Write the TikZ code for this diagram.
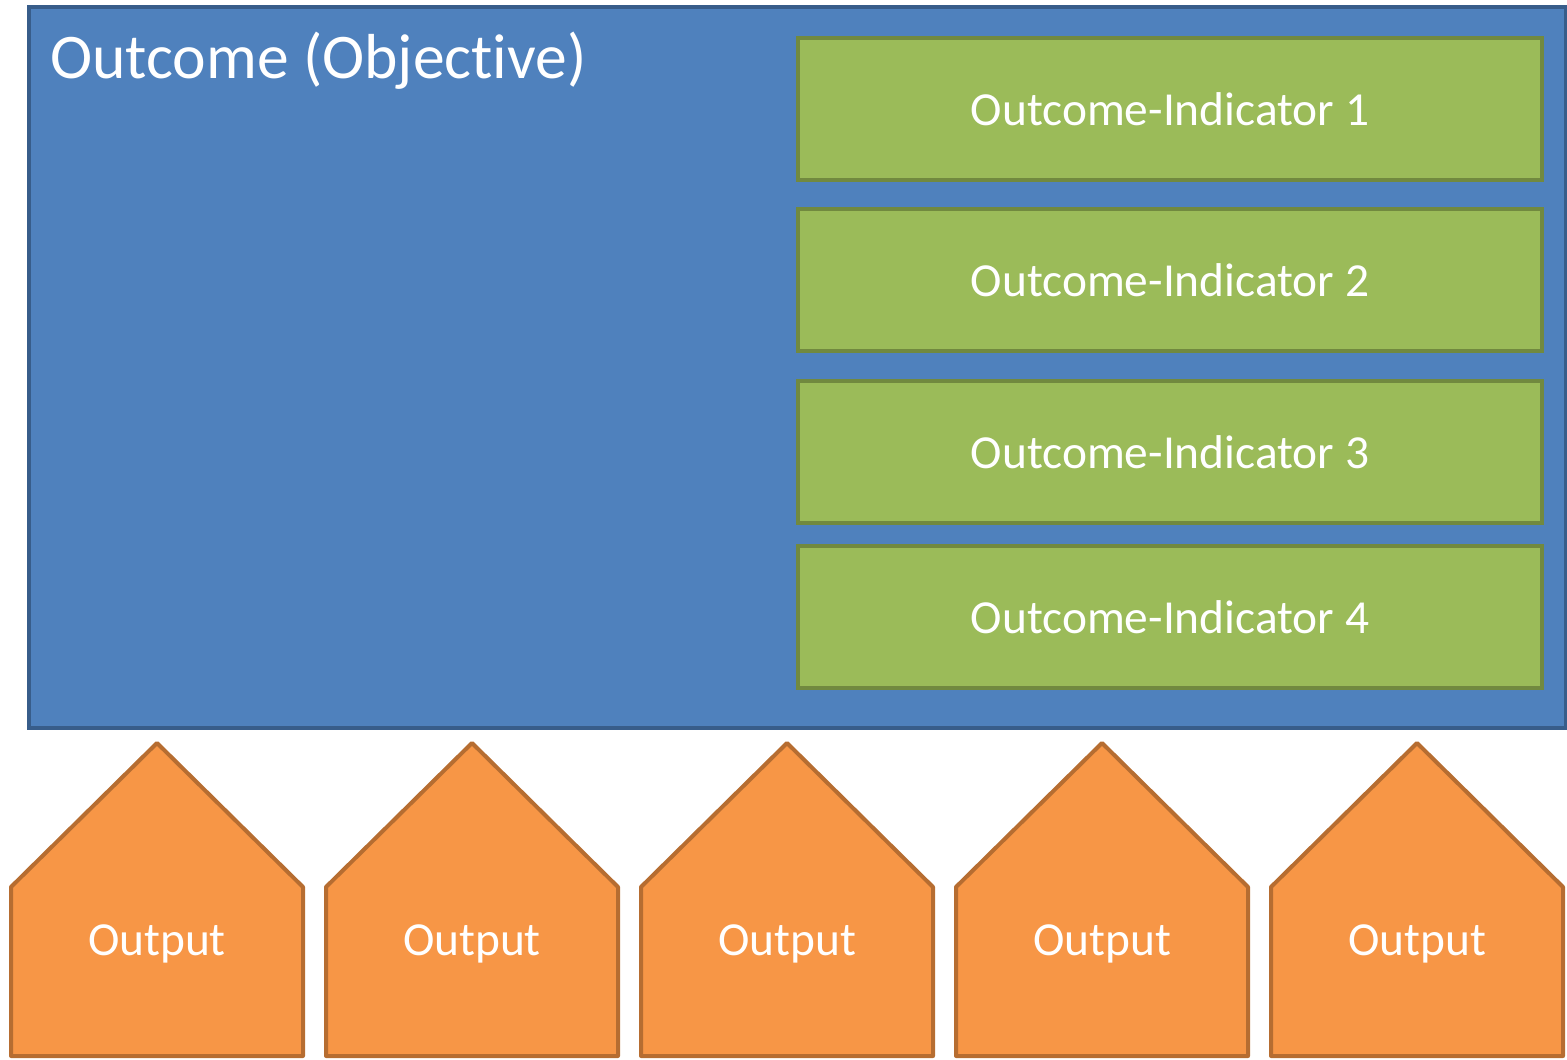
\documentclass[tikz,border=0pt]{standalone}
\usepackage{fontspec}
\setmainfont{Carlito}[RawFeature={-liga;-clig;-calt}]
\usepackage{tikz}
\usetikzlibrary{positioning}
\definecolor{outcomefill}{HTML}{4F81BD}
\definecolor{outcomeline}{HTML}{385D8A}
\definecolor{indfill}{HTML}{9BBB59}
\definecolor{indline}{HTML}{71893F}
\definecolor{outputfill}{HTML}{F79646}
\definecolor{outputline}{HTML}{B66D31}

\begin{document}
\begin{tikzpicture}[x=0.5pt,y=-0.5pt,
	indicator/.style={draw=indline,fill=indfill,line width=2pt,minimum width=372pt,minimum height=71pt,
		text=white,font=\fontsize{23.7}{28}\selectfont},
	outputshape/.style={draw=outputline,fill=outputfill,line width=2pt,line join=round},
	outputtext/.style={text=white,inner sep=0pt,anchor=base,font=\fontsize{23.7}{28}\selectfont}]
	\useasboundingbox (0,0) rectangle (1567,1059);
		% outcome box
		\draw[line width=2pt,draw=outcomeline,fill=outcomefill] (29,7) rectangle (1566,728);
		\node[anchor=base west,inner sep=0pt,text=white,font=\fontsize{31.8}{38}\selectfont] (outcome) at (50,79) {Outcome (Objec\kern0pt tive)};
		% indicators
		\node[indicator] (ind1) at (1170,109) {Outcome-Indicator 1};
		\node[indicator] (ind2) at (1170,280) {Outcome-Indicator 2};
		\node[indicator] (ind3) at (1170,452) {Outcome-Indicator 3};
		\node[indicator] (ind4) at (1170,617) {Outcome-Indicator 4};
		% outputs
		\foreach \i/\cx in {1/157,2/472,3/787,4/1102,5/1417}{
			\draw[outputshape] (\cx-146,1056) -- (\cx-146,887) -- (\cx,743) -- (\cx+146,887) -- (\cx+146,1056) -- cycle;
			\node[outputtext] (out\i) at (\cx,955) {Output};
		}
	\end{tikzpicture}
\end{document}
